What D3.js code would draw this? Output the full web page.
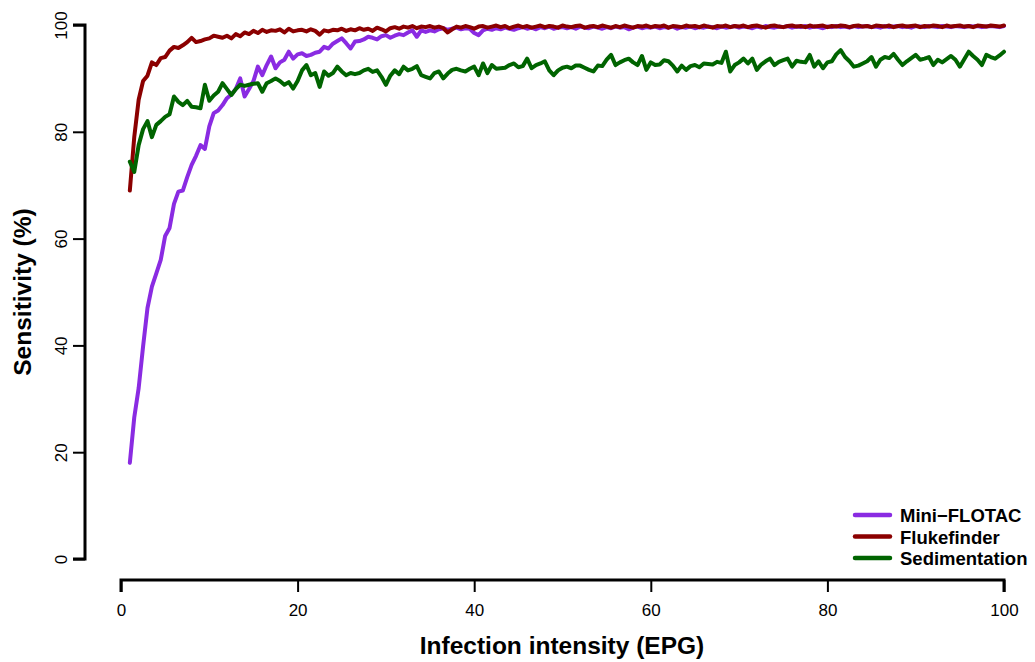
<!DOCTYPE html>
<html>
<head>
<meta charset="utf-8">
<script src="https://cdn.jsdelivr.net/npm/d3@7"></script>
<style>
  html, body { margin: 0; padding: 0; background: #fff; }
  text { font-family: "Liberation Sans", Arial, sans-serif; }
</style>
</head>
<body>
<svg id="chart" width="1035" height="662"></svg>
<script>
const epg = [
  1,1.5,2,2.5,3,3.5,4,4.5,5,5.5, 6,6.5,7,7.5,8,8.5,9,9.5,10,10.5,
  11,11.5,12,12.5,13,13.5,14,14.5,15,15.5, 16,16.5,17,17.5,18,18.5,19,19.5,20,20.5,
  21,21.5,22,22.5,23,23.5,24,24.5,25,25.5, 26,26.5,27,27.5,28,28.5,29,29.5,30,30.5,
  31,31.5,32,32.5,33,33.5,34,34.5,35,35.5, 36,36.5,37,37.5,38,38.5,39,39.5,40,40.5,
  41,41.5,42,42.5,43,43.5,44,44.5,45,45.5, 46,46.5,47,47.5,48,48.5,49,49.5,50,50.5,
  51,51.5,52,52.5,53,53.5,54,54.5,55,55.5, 56,56.5,57,57.5,58,58.5,59,59.5,60,60.5,
  61,61.5,62,62.5,63,63.5,64,64.5,65,65.5, 66,66.5,67,67.5,68,68.5,69,69.5,70,70.5,
  71,71.5,72,72.5,73,73.5,74,74.5,75,75.5, 76,76.5,77,77.5,78,78.5,79,79.5,80,80.5,
  81,81.5,82,82.5,83,83.5,84,84.5,85,85.5, 86,86.5,87,87.5,88,88.5,89,89.5,90,90.5,
  91,91.5,92,92.5,93,93.5,94,94.5,95,95.5, 96,96.5,97,97.5,98,98.5,99,99.5,100
];

const miniFlotac = [
  18,26.5,32,39.8,47,51,53.5,56,60.5,62,
  66.5,68.8,69,71.5,73.8,75.5,77.5,76.8,81,83.5,
  84,85,86.3,87,88,90,86.6,88,89.5,92.2,
  90.6,92.5,94.1,91.9,93,93.5,95,93.7,94.5,94.7,
  94.2,94.4,94.8,95,95.9,95.6,96.5,97,97.5,96.6,
  95.6,96.9,97,97.3,97.8,97.6,97.3,97.9,98.1,97.6,
  98,98.3,98.1,98.6,99,97.8,99,98.7,99,98.8,
  99.2,99.4,99.1,99.3,99.5,99.2,99.4,99.3,98.5,98.1,
  99,99.3,99.1,99.4,99.2,99.5,99.3,99.1,99.4,99.6,
  99.3,99.5,99.2,99.6,99.4,99.7,99.3,99.5,99.6,99.4,
  99.6,99.3,99.7,99.5,99.4,99.7,99.5,99.3,99.6,99.4,
  99.7,99.5,99.6,99.2,99.5,99.7,99.4,99.6,99.5,99.7,
  99.4,99.6,99.5,99.7,99.3,99.6,99.5,99.7,99.4,99.6,
  99.5,99.7,99.6,99.4,99.7,99.5,99.6,99.8,99.5,99.7,
  99.6,99.4,99.7,99.5,99.8,99.6,99.5,99.7,99.6,99.8,
  99.5,99.7,99.6,99.8,99.5,99.7,99.6,99.4,99.7,99.6,
  99.8,99.6,99.7,99.5,99.8,99.6,99.7,99.8,99.6,99.7,
  99.5,99.8,99.6,99.7,99.8,99.6,99.7,99.5,99.8,99.7,
  99.6,99.8,99.7,99.6,99.8,99.7,99.6,99.8,99.7,99.6,
  99.8,99.7,99.8,99.6,99.7,99.8,99.7,99.6,99.8
];

const flukefinder = [
  69,79,86,89.5,90.5,93,92.5,93.8,94,95.2,
  95.9,95.7,96.2,96.8,97.6,96.8,97,97.3,97.5,98,
  97.8,97.6,98,97.5,98.3,97.9,98.6,98.3,98.9,98.5,
  99.1,98.7,99,98.9,99.2,98.6,99.3,98.8,99,99.1,
  98.8,99.2,98.9,98.2,99,98.8,99.1,99,99.3,98.9,
  99.2,99,99.4,99.1,99.3,98.9,99.5,99.2,98.8,99.4,
  99.6,99.3,99.7,99.5,99.8,99.4,99.7,99.6,99.8,99.5,
  99.7,99.4,98.6,99.2,99.7,99.5,99.8,99.6,99.3,99.7,
  99.8,99.5,99.7,99.9,99.6,99.8,99.4,99.7,99.9,99.6,
  99.8,99.5,99.7,99.9,99.6,99.8,99.7,99.5,99.9,99.7,
  99.6,99.8,99.9,99.5,99.7,99.8,99.6,99.9,99.7,99.5,
  99.8,99.6,99.9,99.7,99.5,99.8,99.7,99.9,99.6,99.8,
  99.7,99.9,99.5,99.8,99.7,99.6,99.9,99.7,99.8,99.6,
  99.9,99.7,99.5,99.8,99.7,99.9,99.6,99.8,99.7,99.9,
  99.6,99.8,99.9,99.7,99.5,99.8,99.9,99.7,99.6,99.8,
  99.9,99.7,99.8,99.6,99.9,99.7,99.8,99.9,99.6,99.8,
  99.7,99.9,99.8,99.6,99.8,99.9,99.7,99.8,99.6,99.9,
  99.8,99.7,99.9,99.6,99.8,99.9,99.7,99.8,99.9,99.6,
  99.8,99.7,99.9,99.8,99.6,99.9,99.7,99.8,99.9,99.7,
  99.8,99.6,99.9,99.8,99.7,99.9,99.8,99.7,99.9
];

const sedimentation = [
  74.4,72.5,77.5,80.5,82,79,81.3,82,82.8,83.3,
  86.6,85.6,85,85.8,84.7,84.6,84.4,88.8,85.8,86.8,
  87.5,89.1,88,86.9,88,88.8,88.6,88.8,89,89.1,
  87.5,89.1,89.5,90,89.5,88.8,89.3,88.1,89.5,91.5,
  92.5,90.6,91,88.4,91.3,90.5,91,92.2,91.3,90.6,
  91,90.8,91,91.5,91.8,91.2,91.5,90.3,88.8,90.5,
  91.5,90.8,92.2,91.5,91.8,92.3,90.6,90.3,90,91,
  91.3,90,90.9,91.6,91.8,91.5,91.3,91.8,92.2,90.6,
  92.8,91,92.5,91.8,91.9,92,92.5,92.8,92.1,92.3,
  93.7,91.9,92.5,92.8,93.2,91.5,90.6,91.5,92,92.2,
  91.9,92.4,92.4,92,91.6,91.3,92.4,92.3,93.5,94.4,
  92.5,93,93.4,93.7,93,92.5,94.2,91.6,93,92.5,
  92.6,93.4,93.2,92.4,91.3,92.4,91.6,92.3,92.5,92.1,
  92.8,92.7,92.6,93.1,92.9,95,91.3,92.5,93,93.7,
  92.8,93.7,91.6,92.6,93.2,93.7,92.5,93.1,93.4,93.7,
  92.2,93.3,93.1,93,94.4,92.2,93.2,91.9,93,93.2,
  94.5,95.3,94,93.2,92.2,92.4,92.8,93.2,94,92.2,
  93.5,94,93.8,94.6,93.5,92.5,93.2,93.8,94.4,93.5,
  93.7,94,92.5,93.5,93,93.6,94.2,93.5,92.2,93.6,
  95,94.2,93.5,92.5,94.4,94,93.7,94.3,95
];

const xTicks = [0, 20, 40, 60, 80, 100];
const yTicks = [0, 20, 40, 60, 80, 100];
const seriesNames = ["Mini\u2212FLOTAC", "Flukefinder", "Sedimentation"];
const seriesColors = ["#8a2be2", "#8b0000", "#006400"];

const svg = d3.select("#chart");
const x = d3.scaleLinear().domain([0, 100]).range([121, 1004]);
const y = d3.scaleLinear().domain([0, 100]).range([559, 25]);

const seriesData = [miniFlotac, flukefinder, sedimentation];

const line = d3.line()
  .x((d, i) => x(epg[i]))
  .y(d => y(d));

svg.append("g").selectAll("path")
  .data(seriesData)
  .join("path")
  .attr("d", d => line(d))
  .attr("fill", "none")
  .attr("stroke", (d, i) => seriesColors[i])
  .attr("stroke-width", 4)
  .attr("stroke-linejoin", "round")
  .attr("stroke-linecap", "round");

// X axis
const xAxis = d3.axisBottom(x).tickValues(xTicks).tickSize(12).tickPadding(12).tickFormat(d3.format("d"));
const gx = svg.append("g").attr("transform", "translate(0,580)").call(xAxis);
gx.select(".domain").attr("stroke", "#000").attr("stroke-width", 3)
  .attr("d", `M${x(0)},12V0H${x(100)}V12`);
gx.selectAll(".tick line").attr("stroke", "#000").attr("stroke-width", 2);
gx.selectAll(".tick text").attr("fill", "#000").style("font-size", "17px")
  .style("font-family", "'Liberation Sans', Arial, sans-serif");

// Y axis
const yAxis = d3.axisLeft(y).tickValues(yTicks).tickSize(12).tickPadding(6).tickFormat(d3.format("d"));
const gy = svg.append("g").attr("transform", "translate(85,0)").call(yAxis);
gy.select(".domain").attr("stroke", "#000").attr("stroke-width", 3)
  .attr("d", `M-12,${y(0)}H0V${y(100)}H-12`);
gy.selectAll(".tick line").attr("stroke", "#000").attr("stroke-width", 2);
gy.selectAll(".tick text")
  .attr("fill", "#000")
  .style("font-size", "17px")
  .style("font-family", "'Liberation Sans', Arial, sans-serif")
  .attr("text-anchor", "middle")
  .attr("x", 0).attr("dy", 0)
  .attr("transform", "translate(-18,0) rotate(-90)");

// Axis titles
svg.append("text")
  .attr("x", 562).attr("y", 654)
  .attr("text-anchor", "middle")
  .style("font-size", "24.5px").style("font-weight", "bold")
  .text("Infection intensity (EPG)");

svg.append("text")
  .attr("transform", "translate(31,292) rotate(-90)")
  .attr("text-anchor", "middle")
  .style("font-size", "24.5px").style("font-weight", "bold")
  .text("Sensitivity (%)");

// Legend
const lg = svg.append("g");
seriesNames.forEach((name, i) => {
  const yy = 515 + i * 21.5;
  lg.append("line")
    .attr("x1", 855).attr("x2", 890).attr("y1", yy).attr("y2", yy)
    .attr("stroke", seriesColors[i]).attr("stroke-width", 4.5).attr("stroke-linecap", "round");
  lg.append("text")
    .attr("x", 900).attr("y", yy + 7)
    .style("font-size", "18.5px").style("font-weight", "bold")
    .text(name);
});
</script>
</body>
</html>
